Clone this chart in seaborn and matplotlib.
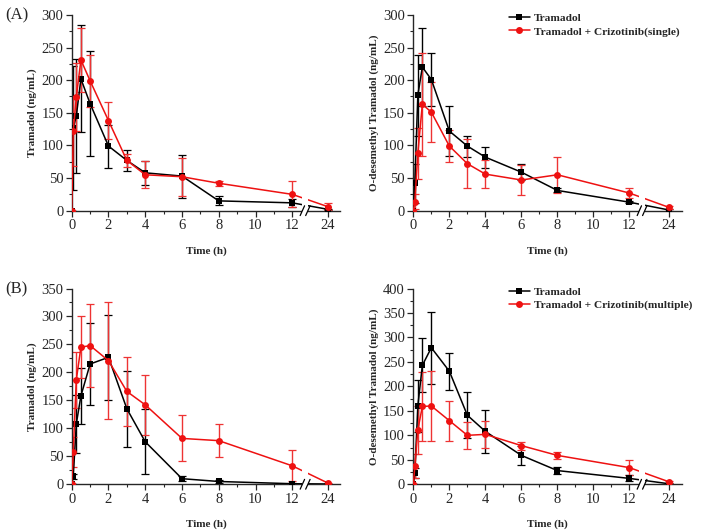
import numpy as np
import pandas as pd
import matplotlib.pyplot as plt
import matplotlib.transforms as mtransforms
from matplotlib.patches import Rectangle
from matplotlib.ticker import MultipleLocator
import seaborn as sns

# sampling times (h)
times = [0, 0.083, 0.25, 0.5, 1, 2, 3, 4, 6, 8, 12, 24]

# (A) single dose, parent drug
tram_a_ctrl = [0, 127, 145, 202, 164, 99, 77, 58, 53, 15, 12, 2]
tram_a_ctrl_sd = [0, 95, 87, 82, 80, 33, 16, 18, 33, 7, 6, 1]
tram_a_cri = [0, 122, 174, 231, 199, 138, 77, 55, 52, 42, 25, 6]
tram_a_cri_sd = [0, 53, 52, 49, 40, 28, 10, 21, 29, 4, 20, 5]

# (A) single dose, metabolite
odt_a_ctrl = [0, 42, 177, 220, 201, 122, 99, 82, 59, 31, 13, 1]
odt_a_ctrl_sd = [0, 30, 62, 60, 41, 38, 16, 16, 12, 3, 2, 1]
odt_a_cri = [0, 14, 88, 163, 151, 99, 72, 56, 47, 55, 27, 5]
odt_a_cri_sd = [0, 12, 39, 79, 46, 24, 38, 22, 23, 28, 8, 2]

# (B) multiple dose, parent drug
tram_b_ctrl = [0, 14, 108, 158, 215, 227, 135, 76, 10, 5, 1, 0.5]
tram_b_ctrl_sd = [0, 5, 52, 50, 73, 76, 68, 58, 5, 3, 1, 0.5]
tram_b_cri = [0, 58, 187, 245, 248, 221, 166, 142, 82, 78, 33, 2]
tram_b_cri_sd = [0, 27, 50, 55, 74, 105, 61, 54, 41, 30, 28, 1]

# (B) multiple dose, metabolite
odt_b_ctrl = [0, 23, 160, 243, 279, 231, 141, 108, 59, 28, 12, 1]
odt_b_ctrl_sd = [0, 10, 53, 55, 74, 38, 47, 44, 20, 8, 6, 1]
odt_b_cri = [0, 37, 111, 159, 160, 130, 100, 102, 79, 59, 34, 5]
odt_b_cri_sd = [0, 25, 49, 70, 72, 41, 28, 27, 8, 7, 15, 2]

sns.set_style("ticks")
plt.rcParams['font.family'] = ['Liberation Serif', 'DejaVu Serif']
plt.rcParams['xtick.labelsize'] = 10.5
plt.rcParams['ytick.labelsize'] = 10.5

fig = plt.figure(figsize=(7.08, 5.32), dpi=100)


def to_pos(t, pos24):
    # broken axis: 0-12 linear, 24 drawn just after the break
    return np.array([pos24 if v == 24 else v for v in t], dtype=float)


def panel(rect, ctrl, ctrl_sd, cri, cri_sd, cri_label, ylabel, ymax, ystep,
          pos24, xmax, legend):
    ax = fig.add_axes(rect)
    pos = to_pos(times, pos24)
    df = pd.DataFrame({
        'pos': np.concatenate([pos, pos]),
        'conc': ctrl + cri,
        'group': ['Tramadol'] * len(times) + [cri_label] * len(times),
    })
    sns.lineplot(data=df, x='pos', y='conc', hue='group', style='group',
                 markers={'Tramadol': 's', cri_label: 'o'}, dashes=False,
                 palette={'Tramadol': 'black', cri_label: '#ee1111'},
                 markersize=5, markeredgewidth=0, linewidth=1.1, ax=ax,
                 sort=False, zorder=3)
    ax.errorbar(pos, ctrl, yerr=ctrl_sd, fmt='none', ecolor='black',
                elinewidth=1.0, capsize=3, capthick=0.9, zorder=2)
    ax.errorbar(pos, cri, yerr=cri_sd, fmt='none', ecolor='#ee3333',
                elinewidth=1.0, capsize=3, capthick=0.9, zorder=2)

    ax.set_xlim(0, xmax)
    ax.set_ylim(0, ymax)
    ax.set_xticks([0, 2, 4, 6, 8, 10, 12, pos24])
    ax.set_xticklabels(['0', '2', '4', '6', '8', '10', '12', '24'])
    ax.set_xticks([1, 3, 5, 7, 9, 11], minor=True)
    ax.yaxis.set_major_locator(MultipleLocator(ystep))
    ax.yaxis.set_minor_locator(MultipleLocator(ystep / 2))
    ax.tick_params(which='major', length=4, width=0.9, pad=2)
    ax.tick_params(which='minor', length=2.5, width=0.8)
    for s in ['top', 'right']:
        ax.spines[s].set_visible(False)
    for s in ['left', 'bottom']:
        ax.spines[s].set_linewidth(1.0)
    ax.set_xlabel('Time (h)', fontsize=8, fontweight='bold', labelpad=10)
    ax.set_ylabel(ylabel, fontsize=8, fontweight='bold', labelpad=3)

    # axis break marker
    trans = mtransforms.blended_transform_factory(ax.transData, ax.transAxes)
    b0, b1 = 12.55, 12.85
    ax.add_patch(Rectangle((b0, -0.02), b1 - b0, 1.02, transform=trans,
                           facecolor='white', edgecolor='none', zorder=5,
                           clip_on=False))
    for bx in (b0, b1):
        ax.plot([bx - 0.12, bx + 0.12], [-0.025, 0.025], color='black',
                lw=0.9, transform=trans, clip_on=False, zorder=6)

    if legend:
        ax.legend(loc='upper left', bbox_to_anchor=(0.355, 1.01),
                  frameon=False, borderaxespad=0, borderpad=0,
                  handlelength=1.9, handletextpad=0.35, labelspacing=0.3,
                  prop={'weight': 'bold', 'size': 8.2})
    else:
        ax.get_legend().remove()
    return ax


w, h = 0.379, 0.368
panel([0.1013, 0.604, w, h], tram_a_ctrl, tram_a_ctrl_sd, tram_a_cri,
      tram_a_cri_sd, 'Tramadol + Crizotinib(single)', 'Tramadol (ng/mL)',
      300, 50, 13.95, 14.6, False)
panel([0.5838, 0.604, w, h], odt_a_ctrl, odt_a_ctrl_sd, odt_a_cri,
      odt_a_cri_sd, 'Tramadol + Crizotinib(single)',
      'O-desemethyl Tramadol (ng/mL)', 300, 50, 14.2, 14.9, True)
panel([0.1013, 0.0897, w, h], tram_b_ctrl, tram_b_ctrl_sd, tram_b_cri,
      tram_b_cri_sd, 'Tramadol + Crizotinib(multiple)', 'Tramadol (ng/mL)',
      350, 50, 13.95, 14.6, False)
panel([0.5838, 0.0897, w, h], odt_b_ctrl, odt_b_ctrl_sd, odt_b_cri,
      odt_b_cri_sd, 'Tramadol + Crizotinib(multiple)',
      'O-desemethyl Tramadol (ng/mL)', 400, 50, 14.2, 14.9, True)

fig.text(0.008, 0.963, '(A)', fontsize=12)
fig.text(0.008, 0.448, '(B)', fontsize=12)

fig.savefig('out.png', dpi=100)
